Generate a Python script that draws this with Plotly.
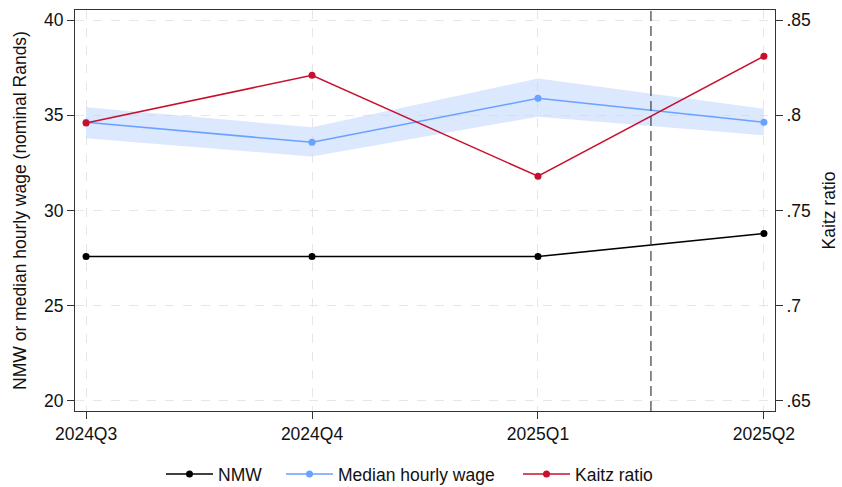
import plotly.graph_objects as go

# Quarterly data
quarters = ["2024Q3", "2024Q4", "2025Q1", "2025Q2"]
nmw = [27.58, 27.58, 27.58, 28.79]
median_wage = [34.63, 33.58, 35.89, 34.63]
median_ci_low = [33.79, 32.84, 34.93, 33.95]
median_ci_high = [35.42, 34.37, 36.93, 35.35]
kaitz = [0.796, 0.821, 0.768, 0.831]

left_ticks = [20, 25, 30, 35, 40]
right_ticks = [0.65, 0.70, 0.75, 0.80, 0.85]
right_ticktext = [".65", ".7", ".75", ".8", ".85"]

FONT = "Liberation Sans, Arial, Helvetica, sans-serif"
BLACK = "#000000"
BLUE = "#6aa2ff"
BAND = "rgba(190, 213, 252, 0.55)"
RED = "#c8102e"
FRAME = "#333333"

fig = go.Figure()

# Confidence band around the median wage
fig.add_trace(go.Scatter(
    x=quarters + quarters[::-1],
    y=median_ci_high + median_ci_low[::-1],
    fill="toself", fillcolor=BAND, line=dict(width=0),
    mode="lines", hoverinfo="skip", showlegend=False,
))

fig.add_trace(go.Scatter(
    x=quarters, y=nmw, name="NMW", mode="lines+markers", legend="legend",
    line=dict(color=BLACK, width=1.5), marker=dict(color=BLACK, size=7),
))
fig.add_trace(go.Scatter(
    x=quarters, y=median_wage, name="Median hourly wage", mode="lines+markers",
    legend="legend2",
    line=dict(color=BLUE, width=1.5), marker=dict(color=BLUE, size=7),
))
fig.add_trace(go.Scatter(
    x=quarters, y=kaitz, name="Kaitz ratio", mode="lines+markers", legend="legend3",
    line=dict(color=RED, width=1.5), marker=dict(color=RED, size=7),
    yaxis="y2",
))

# Policy change marker between 2025Q1 and 2025Q2
fig.add_shape(type="line", xref="x", yref="paper", x0=2.5, x1=2.5, y0=0, y1=1,
              line=dict(color="#3c3c3c", width=1.2, dash="10px,5px"))

FS = 17.5
axis_font = dict(family=FONT, size=FS, color="#111111")


def legend_at(px):
    return dict(orientation="h", xref="container", yref="container",
                x=px / 842, xanchor="left", y=(487 - 474) / 487, yanchor="middle",
                font=axis_font, itemwidth=47, bgcolor="rgba(0,0,0,0)")


fig.update_layout(
    width=842, height=487,
    margin=dict(l=75, r=67, t=10, b=76, autoexpand=False),
    paper_bgcolor="white", plot_bgcolor="white",
    font=axis_font,
    showlegend=True,
    legend=legend_at(161),
    legend2=legend_at(281),
    legend3=legend_at(518),
    xaxis=dict(
        type="category", range=[-0.049, 3.049],
        showline=True, linecolor=FRAME, linewidth=1, mirror=True,
        ticks="outside", ticklen=7, tickcolor=FRAME,
        showgrid=True, gridcolor="#e6e6e6", griddash="dash", gridwidth=1,
        tickfont=axis_font, zeroline=False,
    ),
    yaxis=dict(
        range=[19.47, 40.53], tickvals=left_ticks,
        showline=True, linecolor=FRAME, linewidth=1,
        ticks="outside", ticklen=7, tickcolor=FRAME,
        showgrid=True, gridcolor="#e6e6e6", griddash="dash", gridwidth=1,
        zeroline=False, tickfont=axis_font,
        title=dict(text="NMW or median hourly wage (nominal Rands)", font=axis_font, standoff=12),
    ),
    yaxis2=dict(
        overlaying="y", side="right",
        range=[0.6447, 0.8553], tickvals=right_ticks, ticktext=right_ticktext,
        showline=True, linecolor=FRAME, linewidth=1,
        ticks="outside", ticklen=7, tickcolor=FRAME,
        showgrid=False, zeroline=False, tickfont=axis_font,
        title=dict(text="Kaitz ratio", font=axis_font, standoff=12),
    ),
)

fig.write_html("out.html")
